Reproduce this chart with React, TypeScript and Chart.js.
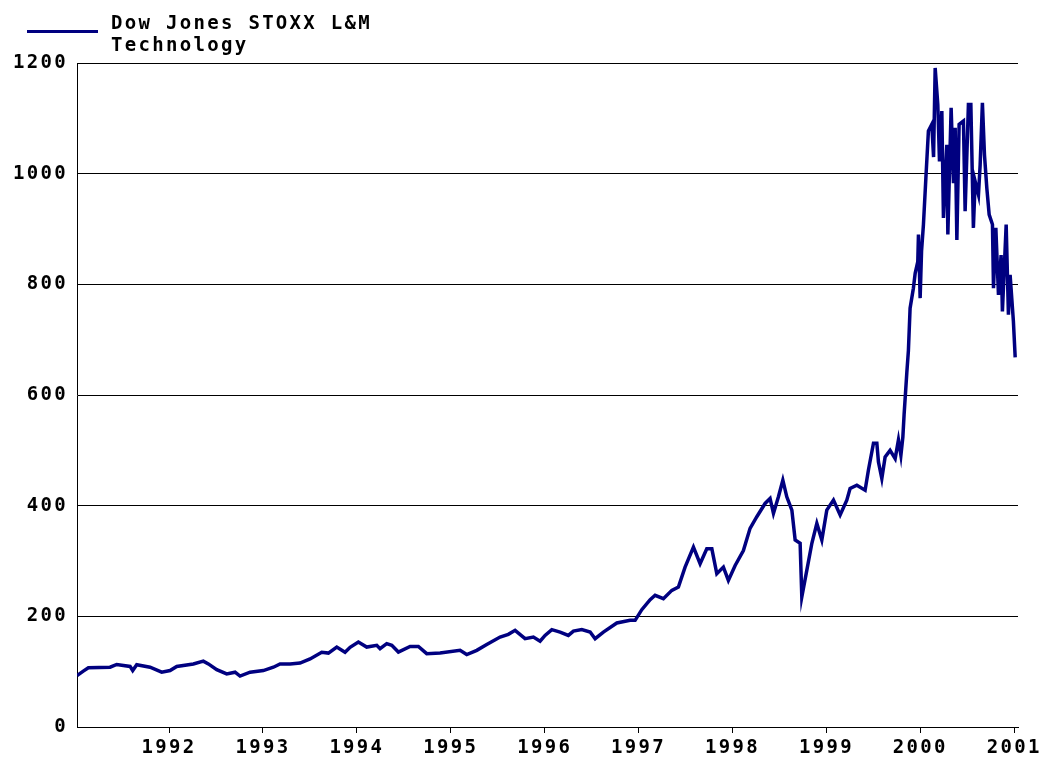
import React, { useEffect, useRef } from "react";
import { Chart, registerables } from "chart.js";

Chart.register(...registerables);

const seriesLines = ["Dow Jones STOXX L&M", "Technology"];

// decimal years
const dates = [
  1991.02, 1991.087, 1991.141, 1991.372, 1991.443, 1991.585, 1991.613, 1991.656, 1991.798, 1991.922,
  1992.011, 1992.082, 1992.259, 1992.365, 1992.419, 1992.508, 1992.614, 1992.703, 1992.756, 1992.863,
  1993.004, 1993.111, 1993.182, 1993.289, 1993.395, 1993.502, 1993.626, 1993.697, 1993.786, 1993.874, 1993.928,
  1994.016, 1994.105, 1994.212, 1994.247, 1994.318, 1994.372, 1994.442, 1994.567, 1994.655, 1994.744, 1994.886,
  1995.099, 1995.17, 1995.277, 1995.383, 1995.525, 1995.613, 1995.685, 1995.791, 1995.88, 1995.951,
  1996.004, 1996.076, 1996.164, 1996.252, 1996.306, 1996.395, 1996.484, 1996.537, 1996.625, 1996.768, 1996.91, 1996.963,
  1997.034, 1997.123, 1997.176, 1997.264, 1997.354, 1997.424, 1997.495, 1997.584, 1997.655, 1997.726, 1997.78, 1997.833, 1997.903, 1997.956,
  1998.028, 1998.116, 1998.187, 1998.259, 1998.347, 1998.4, 1998.436, 1998.489, 1998.536, 1998.578, 1998.632, 1998.667, 1998.72, 1998.738, 1998.791, 1998.845, 1998.898, 1998.951,
  1999.004, 1999.075, 1999.146, 1999.217, 1999.252, 1999.324, 1999.412, 1999.447, 1999.501, 1999.537, 1999.554, 1999.59, 1999.625, 1999.678, 1999.732, 1999.767, 1999.793, 1999.814, 1999.827, 1999.856, 1999.873, 1999.891, 1999.926, 1999.945, 1999.973, 1999.98, 1999.998,
  2000.013, 2000.033, 2000.059, 2000.086, 2000.122, 2000.141, 2000.158, 2000.186, 2000.204, 2000.229, 2000.246, 2000.282, 2000.293, 2000.328, 2000.353, 2000.371, 2000.389, 2000.413, 2000.459, 2000.477, 2000.512, 2000.538, 2000.565, 2000.584, 2000.619, 2000.637, 2000.661, 2000.683, 2000.708, 2000.733, 2000.768, 2000.779, 2000.804, 2000.832, 2000.86, 2000.874, 2000.914, 2000.938, 2000.956, 2000.981, 2000.991, 2001.01,
];

const values = [
  93, 101, 107, 108, 113, 109.5, 102, 112.6, 108, 99,
  102, 109.5, 114, 119, 114, 103.5, 96, 99, 92, 99,
  102, 108, 114, 114, 115.5, 123, 135, 133.6, 144.4, 135, 144,
  153.5, 144.4, 147.5, 141.5, 150.6, 147.5, 135.4, 145.7, 145.7, 132.5, 133.6,
  138.5, 131, 138.5, 149, 162.5, 167.4, 174.7, 159.6, 162.5, 155,
  165.6, 176, 171.6, 165.6, 173.4, 176, 171.6, 159.6, 171.6, 188, 192.8, 192.8,
  212, 230, 238, 232, 247, 253, 289, 325, 295, 322, 322, 277, 289, 265,
  292, 319, 359, 380, 404, 413, 386, 416, 446, 416, 392, 338, 332, 235, 283, 332, 368, 338,
  392, 410, 383, 410, 431, 437, 428, 464, 513, 513, 479, 449, 488, 500, 485, 519, 491, 524, 564, 640, 680, 757, 793, 820, 841, 890, 775,
  860, 908, 992, 1077, 1089, 1030, 1191, 1125, 1022, 1113, 920, 1052, 890, 1119, 983, 1083, 880, 1089, 1095, 932, 1125, 1125, 902, 986, 962, 1016, 1128, 1034, 974, 926, 908, 793, 902, 781, 853, 751, 908, 745, 817, 757, 733, 668,
];

const yTicks = [0, 200, 400, 600, 800, 1000, 1200];
const xTicks = [1992, 1993, 1994, 1995, 1996, 1997, 1998, 1999, 2000, 2001];
const xMin = 1991.02;
const xMax = 2001.04;

const FONT = '"DejaVu Sans Mono", monospace';
const SPACING = "2.3px";

export default function App() {
  const ref = useRef<HTMLCanvasElement>(null);

  useEffect(() => {
    const spacingPlugin = {
      id: "spacing",
      beforeDraw(c: any) {
        (c.ctx as any).letterSpacing = SPACING;
      },
      afterDraw(c: any) {
        (c.ctx as any).letterSpacing = "0px";
      },
    };
    const tickFont = { family: FONT, size: 19, weight: "bold" as const };
    const chart = new Chart(ref.current!, {
      type: "line",
      data: {
        datasets: [
          {
            label: seriesLines.join(" "),
            data: dates.map((d, i) => ({ x: d, y: values[i] })),
            borderColor: "#000080",
            borderWidth: 3.5,
            pointRadius: 0,
            tension: 0,
            fill: false,
          },
        ],
      },
      options: {
        responsive: false,
        animation: false,
        devicePixelRatio: 1,
        layout: { padding: { top: 63, right: 24, left: 0, bottom: 0 } },
        plugins: { legend: { display: false }, tooltip: { enabled: false } },
        scales: {
          x: {
            type: "linear",
            min: xMin,
            max: xMax,
            afterBuildTicks: (s: any) => {
              s.ticks = xTicks.map((v) => ({ value: v }));
            },
            afterFit: (s: any) => {
              s.height = 33;
            },
            grid: {
              display: true,
              drawOnChartArea: false,
              drawTicks: true,
              tickLength: 6,
              color: "#000",
              lineWidth: 1,
            },
            border: { display: true, color: "#000", width: 1 },
            ticks: {
              color: "#000",
              font: tickFont,
              padding: 4,
              maxRotation: 0,
              autoSkip: false,
              callback: (v: any) => String(v),
            },
          },
          y: {
            type: "linear",
            min: 0,
            max: 1200,
            afterBuildTicks: (s: any) => {
              s.ticks = yTicks.map((v) => ({ value: v }));
            },
            afterFit: (s: any) => {
              s.width = 77;
            },
            grid: { color: "#000", lineWidth: 1, drawTicks: false },
            border: { display: true, color: "#000", width: 1 },
            ticks: {
              color: "#000",
              font: tickFont,
              padding: 9,
              callback: (v: any) => String(v),
            },
          },
        },
      },
      plugins: [spacingPlugin],
    });
    return () => chart.destroy();
  }, []);

  return (
    <div style={{ position: "absolute", left: 0, top: 0, width: 1042, height: 760, background: "#fff" }}>
      <canvas ref={ref} width={1042} height={760} style={{ position: "absolute", left: 0, top: 0 }} />
      <div
        style={{
          position: "absolute",
          left: 27,
          top: 30,
          width: 71,
          height: 3,
          background: "#000080",
        }}
      />
      <div
        style={{
          position: "absolute",
          left: 111,
          top: 11,
          fontFamily: FONT,
          fontWeight: "bold",
          fontSize: 19,
          letterSpacing: SPACING,
          lineHeight: "22px",
          color: "#000",
          whiteSpace: "pre",
        }}
      >
        {seriesLines.map((l, i) => (
          <div key={i}>{l}</div>
        ))}
      </div>
    </div>
  );
}
